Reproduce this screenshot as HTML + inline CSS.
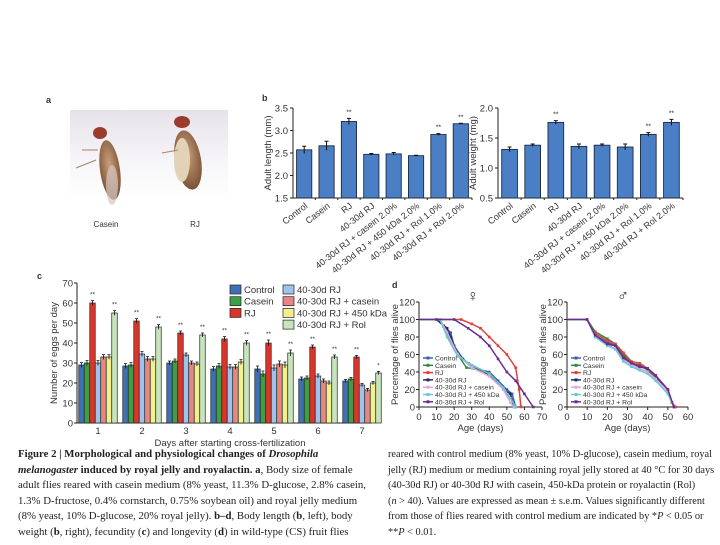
<!DOCTYPE html>
<html><head><meta charset="utf-8">
<style>
html,body{margin:0;padding:0;background:#fff;}
body{width:720px;height:540px;overflow:hidden;position:relative;font-family:"Liberation Sans",sans-serif;}
svg text{font-family:"Liberation Sans",sans-serif;fill:#333;}
.cap{position:absolute;font-family:"Liberation Serif",serif;font-size:10.2px;line-height:15.6px;color:#222;white-space:nowrap;}
</style></head>
<body>
<svg id="fig" width="720" height="540" viewBox="0 0 720 540" xmlns="http://www.w3.org/2000/svg">
<defs>
<linearGradient id="bg" x1="0" y1="0" x2="0" y2="1"><stop offset="0" stop-color="#e6e2ea"/><stop offset="0.6" stop-color="#f7f6f8"/><stop offset="1" stop-color="#fff"/></linearGradient>
<radialGradient id="fly" cx="0.5" cy="0.4" r="0.6"><stop offset="0" stop-color="#c8a07a"/><stop offset="1" stop-color="#7a5236"/></radialGradient>
</defs>
<g>
<text x="46" y="103" font-size="9" font-weight="bold" fill="#000">a</text>
<rect x="70" y="110" width="158" height="90" fill="url(#bg)"/>
<g>
<ellipse cx="110" cy="170" rx="10" ry="30" fill="url(#fly)" transform="rotate(-8 110 170)"/>
<ellipse cx="100" cy="133" rx="7" ry="6" fill="#9b3b2e"/>
<ellipse cx="112" cy="185" rx="6" ry="20" fill="#d8c8c4" opacity="0.7"/>
<line x1="96" y1="160" x2="76" y2="168" stroke="#a58466" stroke-width="1"/>
<line x1="98" y1="150" x2="82" y2="150" stroke="#a58466" stroke-width="1"/>
</g>
<g>
<ellipse cx="188" cy="160" rx="13" ry="30" fill="url(#fly)" transform="rotate(-10 188 160)"/>
<ellipse cx="182" cy="160" rx="8" ry="22" fill="#e2d2b8"/>
<ellipse cx="182" cy="122" rx="8" ry="6" fill="#9b3b2e"/>
<line x1="178" y1="150" x2="162" y2="153" stroke="#a58466" stroke-width="1"/>
</g>
<text x="106" y="227" font-size="8" text-anchor="middle">Casein</text>
<text x="195" y="227" font-size="8" text-anchor="middle">RJ</text>
</g>
<text x="262" y="101" font-size="9" font-weight="bold" fill="#000">b</text>
<g id="bl"></g>
<g id="br"></g>
<text x="37" y="279" font-size="9" font-weight="bold" fill="#000">c</text>
<g id="pc"></g>
<text x="392" y="288" font-size="9" font-weight="bold" fill="#000">d</text>
<g id="dl"></g>
<g id="dr"></g>
</svg>
<div class="cap" style="left:18px;top:447px;font-size:10.8px;"><b>Figure 2 | Morphological and physiological changes of <i>Drosophila</i></b><br><b><i>melanogaster</i> induced by royal jelly and royalactin.</b> <b>a</b>, Body size of female<br>adult flies reared with casein medium (8% yeast, 11.3% D-glucose, 2.8% casein,<br>1.3% D-fructose, 0.4% cornstarch, 0.75% soybean oil) and royal jelly medium<br>(8% yeast, 10% D-glucose, 20% royal jelly). <b>b–d</b>, Body length (<b>b</b>, left), body<br>weight (<b>b</b>, right), fecundity (<b>c</b>) and longevity (<b>d</b>) in wild-type (CS) fruit flies</div>
<div class="cap" style="left:388px;top:447px;font-size:10.3px;">reared with control medium (8% yeast, 10% D-glucose), casein medium, royal<br>jelly (RJ) medium or medium containing royal jelly stored at 40 °C for 30 days<br>(40-30d RJ) or 40-30d RJ with casein, 450-kDa protein or royalactin (Rol)<br>(<i>n</i> &gt; 40). Values are expressed as mean ± s.e.m. Values significantly different<br>from those of flies reared with control medium are indicated by *<i>P</i> &lt; 0.05 or<br>**<i>P</i> &lt; 0.01.</div>
<script>
// ---------- data ----------
const bCats = ["Control","Casein","RJ","40-30d RJ","40-30d RJ + casein 2.0%","40-30d RJ + 450 kDa 2.0%","40-30d RJ + Rol 1.0%","40-30d RJ + Rol 2.0%"];
const lengthVals = [2.57,2.66,3.20,2.47,2.48,2.44,2.91,3.15];
const lengthErr = [0.08,0.10,0.07,0.02,0.03,0.01,0.02,0.01];
const lengthStars = ["","","**","","","","**","**"];
const lengthTicks = [1.5,2.0,2.5,3.0,3.5];
const weightVals = [1.31,1.38,1.76,1.36,1.38,1.35,1.56,1.76];
const weightErr = [0.04,0.02,0.03,0.04,0.02,0.05,0.03,0.05];
const weightStars = ["","","**","","","","**","**"];
const weightTicks = [0.5,1.0,1.5,2.0];

const cDays = ["1","2","3","4","5","6","7"];
const cSeries = ["Control","Casein","RJ","40-30d RJ","40-30d RJ + casein","40-30d RJ + 450 kDa","40-30d RJ + Rol"];
const eggsControl = [29,28.5,30,27,27,22,21];
const eggsCasein = [30,29,31,28.5,24.5,22.5,22];
const eggsRJ = [60,51,45,42,40,38,33];
const eggs4030 = [30,34.5,34,28,27.5,23.5,19];
const eggs4030Casein = [33,32,30,28,29.5,21,16.5];
const eggs4030450 = [33,32,29.5,30.5,29,20,20];
const eggs4030Rol = [55,48,44,40,35,33,25];
const eggsErr = [1.2,1.2,1.0,1.2,1.5,1.0,0.8];
const rjStars = ["**","**","**","**","**","**","**"];
const rolStars = ["**","**","**","**","**","**","*"];
const cTicks = [0,10,20,30,40,50,60,70];

const dSeries = ["Control","Casein","RJ","40-30d RJ","40-30d RJ + casein","40-30d RJ + 450 kDa","40-30d RJ + Rol"];
const fControl = [[0,100],[10,100],[14,93],[18,85],[20,70],[25,55],[30,45],[40,40],[45,30],[50,20],[53,15],[55,0]];
const fCasein = [[0,100],[12,100],[14,92],[18,75],[22,60],[27,45],[35,42],[42,35],[48,20],[52,10],[55,0]];
const fRJ = [[0,100],[24,100],[30,95],[35,90],[40,80],[45,70],[50,60],[55,45],[57,20],[58,0]];
const f4030 = [[0,100],[10,100],[16,90],[18,80],[22,60],[28,50],[38,40],[44,30],[48,20],[52,15],[54,0]];
const f4030Casein = [[0,100],[12,100],[16,85],[22,60],[30,45],[40,35],[48,20],[52,5],[54,0]];
const f4030450 = [[0,100],[12,100],[16,80],[22,58],[30,48],[40,38],[48,22],[52,10],[55,0]];
const f4030Rol = [[0,100],[20,100],[28,90],[35,80],[40,70],[45,55],[50,40],[55,30],[60,15],[65,0]];
const mControl = [[0,100],[10,100],[14,82],[20,74],[24,70],[28,58],[32,50],[36,47],[40,44],[44,35],[50,18],[53,0]];
const mCasein = [[0,100],[10,100],[14,86],[20,78],[24,72],[28,60],[32,50],[36,48],[40,42],[44,33],[50,20],[52,5],[53,0]];
const mRJ = [[0,100],[10,100],[14,84],[20,76],[24,72],[28,62],[32,52],[36,50],[40,44],[44,35],[50,20],[52,5],[54,0]];
const m4030 = [[0,100],[10,100],[14,80],[20,72],[24,70],[28,56],[32,50],[36,46],[40,44],[44,36],[50,18],[53,0]];
const m4030Casein = [[0,100],[10,100],[14,82],[20,72],[24,66],[28,54],[32,48],[36,44],[40,40],[44,32],[50,18],[53,0]];
const m4030450 = [[0,100],[10,100],[14,80],[20,70],[24,66],[28,52],[32,46],[36,42],[40,38],[44,30],[50,15],[53,0]];
const m4030Rol = [[0,100],[10,100],[14,82],[20,72],[24,70],[28,56],[32,50],[36,46],[40,44],[44,36],[50,20],[53,0]];
const dTicksF = [0,10,20,30,40,50,60,70];
const dTicksM = [0,10,20,30,40,50,60];
const dYTicks = [0,20,40,60,80,100,120];

// ---------- drawing ----------
const NS = "http://www.w3.org/2000/svg";
function mk(tag, attrs, parent){const e=document.createElementNS(NS,tag);for(const k in attrs)e.setAttribute(k,attrs[k]);parent.appendChild(e);return e;}

function barPanel(g, x0, x1, y0, y1, vmin, vmax, ticks, vals, errs, stars, ylabel, nm){
  const ys = v => y0 - (v-vmin)/(vmax-vmin)*(y0-y1);
  const n = vals.length, step = (x1-x0)/n;
  const ax = mk("path",{d:`M${x0},${y1}V${y0}H${x1}`,stroke:"#222","stroke-width":1,fill:"none"},g);
  
  
  ticks.forEach(t=>{
    const y=ys(t);
    mk("line",{x1:x0-3,x2:x0,y1:y,y2:y,stroke:"#222"},g);
    const tx=mk("text",{x:x0-5,y:y+3.5,"font-size":9.5,"text-anchor":"end"},g);
    tx.textContent=t.toFixed(1);
    
    
  });
  vals.forEach((v,i)=>{
    const cx=x0+step*(i+0.5), w=step*0.68;
    const r=mk("rect",{x:cx-w/2,y:ys(v),width:w,height:y0-ys(v),fill:"#4a7fc6",stroke:"#1c2a40","stroke-width":0.9},g);
    
    
    const e=errs[i];
    mk("path",{d:`M${cx},${ys(v+e)}V${ys(v-e)}M${cx-2},${ys(v+e)}H${cx+2}`,stroke:"#111","stroke-width":1},g);
    if(stars[i]){const s=mk("text",{x:cx,y:ys(v+e)-4,"font-size":7,"text-anchor":"middle"},g);s.textContent=stars[i];}
    mk("line",{x1:x0+step*(i+1),x2:x0+step*(i+1),y1:y0,y2:y0+2,stroke:"#222"},g);
    const lab=mk("text",{x:0,y:0,"font-size":9,"text-anchor":"end",transform:`translate(${cx+4},${y0+9}) rotate(-38)`},g);
    lab.textContent=bCats[i];
    
    
  });
  const yl=mk("text",{x:0,y:0,"font-size":9.5,"text-anchor":"middle",transform:`translate(${x0-22},${(y0+y1)/2}) rotate(-90)`},g);
  yl.textContent=ylabel;
  
  
}
barPanel(document.getElementById("bl"),293,472,198,108,1.5,3.5,lengthTicks,lengthVals,lengthErr,lengthStars,"Adult length (mm)","length");
barPanel(document.getElementById("br"),498,683,198,108,0.5,2.0,weightTicks,weightVals,weightErr,weightStars,"Adult weight (mg)","weight");

// panel c
(function(){
  const g=document.getElementById("pc");
  const x0=77,x1=372,y0=423,y1=283;
  const ys=v=>y0-v/70*(y0-y1);
  const cols=["#3f6fb6","#3e9e47","#d8352c","#9fc3ea","#ea8585","#f3ee8e","#c8e4bd"];
  const all=[eggsControl,eggsCasein,eggsRJ,eggs4030,eggs4030Casein,eggs4030450,eggs4030Rol];
  const gw=44, bw=5.5;
  mk("path",{d:`M${x0},${y1}V${y0}H${x1}`,stroke:"#222","stroke-width":1,fill:"none"},g);
  cTicks.forEach(t=>{const y=ys(t);mk("line",{x1:x0-3,x2:x0,y1:y,y2:y,stroke:"#222"},g);
    const tx=mk("text",{x:x0-4,y:y+3.5,"font-size":9.5,"text-anchor":"end"},g);tx.textContent=t;
    
    });
  cDays.forEach((d,j)=>{
    const gc=x0+21+gw*j;
    all.forEach((arr,s)=>{
      const x=gc-3.5*bw+s*bw, v=arr[j];
      const r=mk("rect",{x:x,y:ys(v),width:bw,height:y0-ys(v),fill:cols[s],stroke:"#1e2a22","stroke-width":0.7},g);
      
      
      const e=eggsErr[j], cx=x+bw/2;
      mk("path",{d:`M${cx},${ys(v+e)}V${ys(v-e)}M${cx-1.5},${ys(v+e)}H${cx+1.5}`,stroke:"#111","stroke-width":0.8},g);
      if(s===2){const t=mk("text",{x:cx,y:ys(v+e)-4,"font-size":6.5,"text-anchor":"middle"},g);t.textContent=rjStars[j];}
      if(s===6){const t=mk("text",{x:cx,y:ys(v+e)-4,"font-size":6.5,"text-anchor":"middle"},g);t.textContent=rolStars[j];}
    });
    const tl=mk("text",{x:gc,y:y0+11,"font-size":9.5,"text-anchor":"middle"},g);tl.textContent=d;
    
    
  });
  const yl=mk("text",{x:0,y:0,"font-size":9.5,"text-anchor":"middle",transform:`translate(57,${(y0+y1)/2}) rotate(-90)`},g);
  yl.textContent="Number of eggs per day";
  
  
  const xl=mk("text",{x:230,y:446,"font-size":9.5,"text-anchor":"middle"},g);
  xl.textContent="Days after starting cross-fertilization";
  
  
  cSeries.forEach((nm,s)=>{
    const col=s<3?0:1, row=s<3?s:s-3;
    const lx=col?283:230, ly=285+row*11.7;
    const le=mk("g",{},g);
    
    
    mk("rect",{x:lx,y:ly,width:11,height:9,fill:cols[s],stroke:"#222","stroke-width":0.7},le);
    const t=mk("text",{x:lx+14,y:ly+8,"font-size":9.5},le);t.textContent=nm;
  });
})();

// panel d
function surv(g,x0,x1,xmax,xticks,series,sym,cx){
  const y0=407,y1=302;
  const xs=v=>x0+v/xmax*(x1-x0), ys=v=>y0-v/120*(y0-y1);
  const cols=["#3b5fa8","#2f8a45","#e0413a","#1f2d6b","#e6a6d6","#6cc6d6","#6a2d8f"];
  mk("path",{d:`M${x0},${y1}V${y0}H${x1}`,stroke:"#222","stroke-width":1,fill:"none"},g);
  dYTicks.forEach(t=>{const y=ys(t);mk("line",{x1:x0-3,x2:x0,y1:y,y2:y,stroke:"#222"},g);
    const tx=mk("text",{x:x0-4,y:y+3.5,"font-size":9.5,"text-anchor":"end"},g);tx.textContent=t;
    
    });
  xticks.forEach(t=>{const x=xs(t);mk("line",{x1:x,x2:x,y1:y0,y2:y0+3,stroke:"#222"},g);
    const tx=mk("text",{x:x,y:y0+13,"font-size":9.5,"text-anchor":"middle"},g);tx.textContent=t;
    
    });
  series.forEach((pts,s)=>{
    const p=mk("polyline",{points:pts.map(q=>xs(q[0])+","+ys(q[1])).join(" "),fill:"none",stroke:cols[s],"stroke-width":1.5},g);
    
    
    pts.forEach(q=>{if(q[0]>0)mk("rect",{x:xs(q[0])-1.3,y:ys(q[1])-1.3,width:2.6,height:2.6,fill:cols[s]},g);});
  });
  dSeries.forEach((nm,s)=>{
    const ly=358+s*7.3, lx=x0+4;
    const le=mk("g",{},g);
    
    
    mk("line",{x1:lx,x2:lx+10,y1:ly,y2:ly,stroke:cols[s],"stroke-width":1.5},le);
    mk("rect",{x:lx+3.5,y:ly-1.5,width:3,height:3,fill:cols[s]},le);
    const t=mk("text",{x:lx+12,y:ly+2.5,"font-size":6.8},le);t.textContent=nm;
  });
  const yl=mk("text",{x:0,y:0,"font-size":9.5,"text-anchor":"middle",transform:`translate(${x0-21},${(y0+y1)/2}) rotate(-90)`},g);
  yl.textContent="Percentage of flies alive";
  
  
  const xl=mk("text",{x:(x0+x1)/2,y:y0+24,"font-size":9.5,"text-anchor":"middle"},g);
  xl.textContent="Age (days)";
  
  
  const sy=mk("text",{x:cx,y:301,"font-size":16,"text-anchor":"middle"},g);
  sy.textContent=sym;
  
  
}
surv(document.getElementById("dl"),419,542,70,dTicksF,[fControl,fCasein,fRJ,f4030,f4030Casein,f4030450,f4030Rol],"♀",473);
surv(document.getElementById("dr"),567,688,60,dTicksM,[mControl,mCasein,mRJ,m4030,m4030Casein,m4030450,m4030Rol],"♂",623);
</script>
</body></html>
